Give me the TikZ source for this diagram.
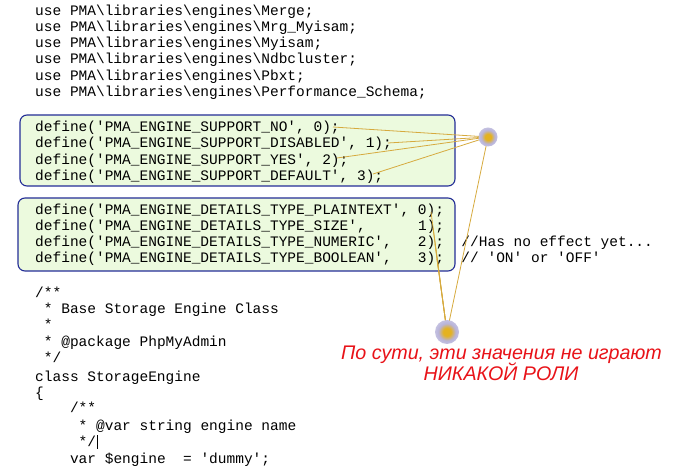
\documentclass[tikz,border=0pt]{standalone}
\usepackage{fontspec}
\setmainfont{Liberation Sans}
\setmonofont{Liberation Mono}
\usepackage{xcolor}
\usetikzlibrary{shapes}

\definecolor{codeblue}{RGB}{35,45,150}
\definecolor{boxgreen}{RGB}{236,250,222}
\definecolor{leadercol}{RGB}{214,170,62}
\definecolor{pingold}{RGB}{228,178,32}
\definecolor{pinglow}{RGB}{184,180,218}
\definecolor{notered}{RGB}{232,18,24}
\pgfdeclareradialshading{knobshade}{\pgfpoint{0bp}{0bp}}{color(0bp)=(pingold); color(8bp)=(pingold); color(18bp)=(pinglow); color(34bp)=(pinglow!60!white); color(50bp)=(white)}

\begin{document}
\begin{tikzpicture}[x=1pt, y=-1pt,
    code/.style={anchor=base west, inner sep=0, font=\ttfamily\fontsize{14.5}{16}\selectfont},
    codebox/.style={rectangle, draw=codeblue, line width=1.1pt, fill=boxgreen, rounded corners=7pt, inner sep=0},
    leader/.style={draw=leadercol, line width=0.8pt},
    knob/.style={circle, inner sep=0, shading=knobshade},
    note/.style={anchor=base, inner sep=0, text=notered, font=\itshape\fontsize{19.7}{21}\selectfont}]
    \useasboundingbox (0, 0) rectangle (697, 470);

    % the two highlighted blocks
    \node [codebox, minimum width=435, minimum height=71] (supportbox) at (237.5, 150.5) {};
    \node [codebox, minimum width=437, minimum height=73] (detailsbox) at (236.5, 234.5) {};

    % use statements
    \node [code] (use1) at (35, 16) {use PMA\textbackslash libraries\textbackslash engines\textbackslash Merge;};
    \node [code] (use2) at (35, 31.5) {use PMA\textbackslash libraries\textbackslash engines\textbackslash Mrg\_Myisam;};
    \node [code] (use3) at (35, 47.5) {use PMA\textbackslash libraries\textbackslash engines\textbackslash Myisam;};
    \node [code] (use4) at (35, 64) {use PMA\textbackslash libraries\textbackslash engines\textbackslash Ndbcluster;};
    \node [code] (use5) at (35, 80.5) {use PMA\textbackslash libraries\textbackslash engines\textbackslash Pbxt;};
    \node [code] (use6) at (35, 96.5) {use PMA\textbackslash libraries\textbackslash engines\textbackslash Performance\_Schema;};

    % engine support constants
    \node [code] (support0) at (35, 132) {define('PMA\_ENGINE\_SUPPORT\_NO', 0);};
    \node [code] (support1) at (35, 148) {define('PMA\_ENGINE\_SUPPORT\_DISABLED', 1);};
    \node [code] (support2) at (35, 164.5) {define('PMA\_ENGINE\_SUPPORT\_YES', 2);};
    \node [code] (support3) at (35, 180.5) {define('PMA\_ENGINE\_SUPPORT\_DEFAULT', 3);};

    % details type constants
    \node [code] (details0) at (35, 214.5) {define('PMA\_ENGINE\_DETAILS\_TYPE\_PLAINTEXT', 0);};
    \node [code] (details1) at (35, 230.5) {define('PMA\_ENGINE\_DETAILS\_TYPE\_SIZE',~~~~~~1);};
    \node [code] (details2) at (35, 246.5) {define('PMA\_ENGINE\_DETAILS\_TYPE\_NUMERIC',~~~2);~~//Has no effect yet...};
    \node [code] (details3) at (35, 262.5) {define('PMA\_ENGINE\_DETAILS\_TYPE\_BOOLEAN',~~~3);~~//~'ON' or 'OFF'};

    % class header
    \node [code] (doc1) at (35, 297.5) {/**};
    \node [code] (doc2) at (35, 313.5) {~* Base Storage Engine Class};
    \node [code] (doc3) at (35, 329.5) {~*};
    \node [code] (doc4) at (35, 346.5) {~* @package PhpMyAdmin};
    \node [code] (doc5) at (35, 362.5) {~*/};
    \node [code] (class) at (35, 381.5) {class StorageEngine};
    \node [code] (brace) at (35, 397.5) {\{};
    \node [code] (doc6) at (35, 412.5) {~~~~/**};
    \node [code] (doc7) at (35, 430.5) {~~~~~* @var string engine name};
    \node [code] (doc8) at (35, 446.5) {~~~~~*/};
    \node [code] (engine) at (35, 463.5) {~~~~var \$engine~~= 'dummy';};
    \node [rectangle, fill=black, inner sep=0, minimum width=1, minimum height=14] (cursor) at (97.5, 442) {};

    % pins
    \coordinate (toppin) at (488, 137);
    \coordinate (lowpin) at (447, 332);
    \coordinate (s0) at (333, 127);
    \coordinate (s1) at (388, 143);
    \coordinate (s2) at (337, 158);
    \coordinate (s3) at (373, 174);
    \coordinate (d0) at (431, 212);
    \coordinate (d1) at (433, 228);
    \coordinate (d2) at (435, 244);
    \coordinate (d3) at (437, 259);

    \draw [leader] (toppin) -- (s0);
    \draw [leader] (toppin) -- (s1);
    \draw [leader] (toppin) -- (s2);
    \draw [leader] (toppin) -- (s3);
    \draw [leader] (toppin) -- (lowpin);
    \draw [leader] (lowpin) -- (d0);
    \draw [leader] (lowpin) -- (d1);
    \draw [leader] (lowpin) -- (d2);
    \draw [leader] (lowpin) -- (d3);

    \node [knob, minimum size=19] (topknob) at (toppin) {};
    \node [knob, minimum size=24] (lowknob) at (lowpin) {};

    % remark
    \node [note] (remark1) at (501.5, 359.5) {По сути, эти значения не играют};
    \node [note] (remark2) at (501, 380.5) {НИКАКОЙ РОЛИ};
\end{tikzpicture}
\end{document}
